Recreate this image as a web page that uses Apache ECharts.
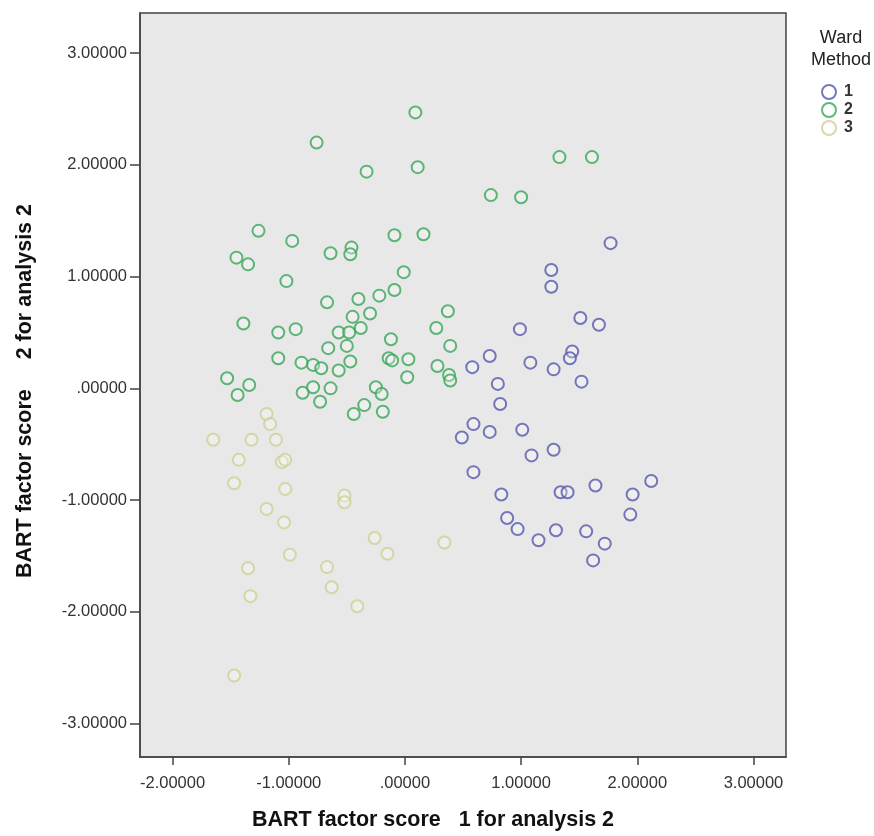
<!DOCTYPE html>
<html>
<head>
<meta charset="utf-8">
<script src="https://cdn.jsdelivr.net/npm/echarts@6/dist/echarts.min.js"></script>
<style>
  html, body { margin: 0; padding: 0; background: #fff; }
  #chart { width: 874px; height: 836px; }
</style>
</head>
<body>
<div id="chart"></div>
<script>
// Ward Method cluster 1 (blue)
const cluster1 = [
  [1.77, 1.30], [1.26, 1.06], [1.26, 0.91], [1.51, 0.63], [1.67, 0.57],
  [0.99, 0.53], [1.44, 0.33], [1.42, 0.27], [0.73, 0.29], [0.58, 0.19],
  [1.08, 0.23], [1.28, 0.17], [1.52, 0.06], [0.80, 0.04], [0.82, -0.14],
  [0.59, -0.32], [0.73, -0.39], [0.49, -0.44], [1.01, -0.37], [1.09, -0.60],
  [1.28, -0.55], [0.59, -0.75], [0.83, -0.95], [1.34, -0.93], [1.40, -0.93],
  [1.64, -0.87], [1.96, -0.95], [2.12, -0.83], [0.88, -1.16], [0.97, -1.26],
  [1.15, -1.36], [1.30, -1.27], [1.56, -1.28], [1.72, -1.39], [1.62, -1.54],
  [1.94, -1.13]
];
// cluster 2 (green)
const cluster2 = [
  [0.09, 2.47], [-0.76, 2.20], [-0.33, 1.94], [0.11, 1.98], [1.33, 2.07],
  [1.61, 2.07], [0.74, 1.73], [1.00, 1.71], [-1.26, 1.41], [-0.97, 1.32],
  [-0.09, 1.37], [0.16, 1.38], [-0.64, 1.21], [-0.46, 1.26], [-0.47, 1.20],
  [-1.45, 1.17], [-1.35, 1.11], [-1.02, 0.96], [-0.01, 1.04], [-0.67, 0.77],
  [-0.40, 0.80], [-0.22, 0.83], [-0.09, 0.88], [-0.45, 0.64], [-0.30, 0.67],
  [0.37, 0.69], [0.27, 0.54], [0.39, 0.38], [-1.39, 0.58], [-1.09, 0.50],
  [-0.94, 0.53], [-0.57, 0.50], [-0.48, 0.50], [-0.38, 0.54], [-0.66, 0.36],
  [-0.50, 0.38], [-0.12, 0.44], [-1.09, 0.27], [-0.89, 0.23], [-0.79, 0.21],
  [-0.72, 0.18], [-0.57, 0.16], [-0.47, 0.24], [-0.14, 0.27], [-0.11, 0.25],
  [0.03, 0.26], [0.28, 0.20], [0.38, 0.12], [0.39, 0.07], [0.02, 0.10],
  [-1.53, 0.09], [-1.34, 0.03], [-1.44, -0.06], [-0.88, -0.04], [-0.79, 0.01],
  [-0.64, 0.00], [-0.73, -0.12], [-0.25, 0.01], [-0.20, -0.05], [-0.35, -0.15],
  [-0.44, -0.23], [-0.19, -0.21]
];
// cluster 3 (yellow)
const cluster3 = [
  [-1.19, -0.23], [-1.16, -0.32], [-1.65, -0.46], [-1.32, -0.46], [-1.11, -0.46],
  [-1.43, -0.64], [-1.06, -0.66], [-1.03, -0.64], [-1.47, -0.85], [-1.03, -0.90],
  [-0.52, -0.96], [-0.52, -1.02], [-1.19, -1.08], [-1.04, -1.20], [-0.26, -1.34],
  [-0.15, -1.48], [0.34, -1.38], [-0.99, -1.49], [-1.35, -1.61], [-0.67, -1.60],
  [-0.63, -1.78], [-1.33, -1.86], [-0.41, -1.95], [-1.47, -2.57]
];
const clusterNames = ['1', '2', '3'];
const clusterColors = ['#5458ad', '#37a657', '#cfcf94'];
const xTicks = [-2, -1, 0, 1, 2, 3];
const yTicks = [-3, -2, -1, 0, 1, 2, 3];

function fmt(v) {
  if (v === 0) return '.00000';
  return v.toFixed(5);
}

const chart = echarts.init(document.getElementById('chart'));
const FONT = 'Liberation Sans, Arial, sans-serif';

const series = [cluster1, cluster2, cluster3].map((d, i) => ({
  name: clusterNames[i],
  type: 'scatter',
  data: d,
  symbol: 'circle',
  symbolSize: 12,
  itemStyle: {
    color: 'rgba(255,255,255,0.35)',
    borderColor: clusterColors[i],
    borderWidth: 2
  },
  emphasis: { disabled: true }
}));

const axisText = { color: '#333', fontSize: 16.5, fontFamily: FONT };
const titleText = { fontSize: 21.5, fontWeight: 'bold', color: '#111', fontFamily: FONT };

chart.setOption({
  animation: false,
  backgroundColor: '#fff',
  title: {
    text: 'Ward\nMethod',
    left: 836,
    top: 22,
    textAlign: 'center',
    textStyle: { fontSize: 18, fontWeight: 'normal', color: '#222', lineHeight: 22, fontFamily: FONT }
  },
  legend: {
    orient: 'vertical',
    left: 816,
    top: 79,
    itemGap: 2,
    itemWidth: 14,
    itemHeight: 14,
    data: clusterNames,
    textStyle: { fontSize: 16, lineHeight: 16, fontWeight: 'bold', color: '#333', padding: [0, 0, 0, 3], fontFamily: FONT }
  },
  grid: {
    left: 140,
    right: 88,
    top: 13,
    bottom: 78,
    show: true,
    backgroundColor: '#e8e8e8',
    borderColor: '#444',
    borderWidth: 1.5
  },
  xAxis: {
    type: 'value',
    min: -2.28,
    max: 3.28,
    name: 'BART factor score   1 for analysis 2',
    nameLocation: 'middle',
    nameGap: 52,
    nameTextStyle: Object.assign({ padding: [0, 60, 0, 0] }, titleText),
    splitLine: { show: false },
    axisLine: { show: true, onZero: false, lineStyle: { color: '#444', width: 1.5 } },
    axisTick: { show: true, length: 8, customValues: xTicks, lineStyle: { color: '#444', width: 1.5 } },
    axisLabel: Object.assign({ customValues: xTicks, formatter: fmt, margin: 18 }, axisText)
  },
  yAxis: {
    type: 'value',
    min: -3.30,
    max: 3.36,
    name: 'BART factor score     2 for analysis 2',
    nameLocation: 'middle',
    nameRotate: 90,
    nameGap: 104,
    nameTextStyle: Object.assign({ padding: [0, 12, 0, 0] }, titleText),
    splitLine: { show: false },
    axisLine: { show: true, onZero: false, lineStyle: { color: '#444', width: 1.5 } },
    axisTick: { show: true, length: 10, customValues: yTicks, lineStyle: { color: '#444', width: 1.5 } },
    axisLabel: Object.assign({ customValues: yTicks, formatter: fmt, margin: 13 }, axisText)
  },
  series: series
});
</script>
</body>
</html>
